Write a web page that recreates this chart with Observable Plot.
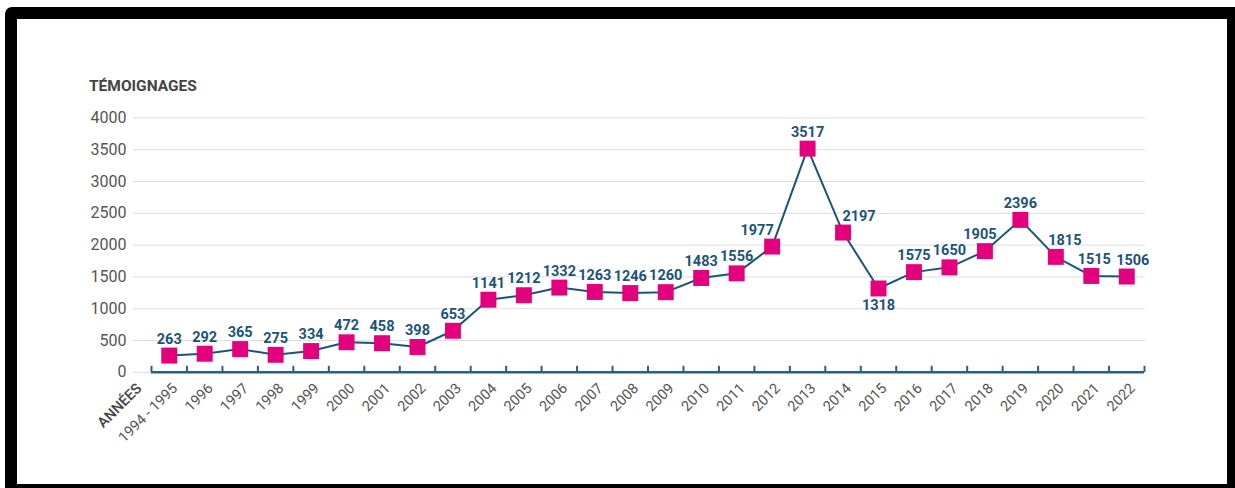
<!DOCTYPE html>
<html>
<head>
<meta charset="utf-8">
<script src="https://cdn.jsdelivr.net/npm/d3@7"></script>
<script src="https://cdn.jsdelivr.net/npm/@observablehq/plot@0.6"></script>
<style>
  html, body { margin: 0; padding: 0; background: #fff; overflow: hidden; width: 1235px; height: 488px; }
  #frame {
    position: absolute; left: 5px; top: 7px;
    width: 1210px; height: 465px;
    border: 12px solid #000; border-top-left-radius: 7px;
    pointer-events: none; z-index: 2;
  }
  #title {
    position: absolute; left: 89px; top: 79px;
    font-family: Roboto, sans-serif; font-size: 15.5px; font-weight: 700;
    line-height: 15px; color: #444;
  }
  #chart { position: absolute; left: 0; top: 100px; }
  #chart svg { font-family: Roboto, sans-serif; }
</style>
</head>
<body>
<div id="frame"></div>
<div id="title">TÉMOIGNAGES</div>
<div id="chart"></div>
<script>
// ---- data ----
const categories = ["1994 - 1995","1996","1997","1998","1999","2000","2001","2002","2003","2004","2005","2006","2007","2008","2009","2010","2011","2012","2013","2014","2015","2016","2017","2018","2019","2020","2021","2022"];
const values = [263,292,365,275,334,472,458,398,653,1141,1212,1332,1263,1246,1260,1483,1556,1977,3517,2197,1318,1575,1650,1905,2396,1815,1515,1506];
const yTicks = [0,500,1000,1500,2000,2500,3000,3500,4000];
const xAxisTitle = "ANNÉES";

// ---- presentation ----
const labelDx = {"2012": -15, "2014": 16, "2018": -5, "2020": 9, "2021": 3, "2022": 6};
const labelsBelow = new Set(["2015"]);
const pink = "#e3007d", navy = "#1d5476", axisCol = "#2a5f82";

const xRange = [151, 1144];
const bandPx = (xRange[1] - xRange[0]) / categories.length;

const data = categories.map((c, i) => ({cat: c, i, pos: i + 0.5, value: values[i]}));
const bounds = d3.range(categories.length + 1);

const height = 380, marginTop = 17.4, marginBottom = 108.2;
const yMax = 4000;
const tickLen = 6 * yMax / (height - marginTop - marginBottom);

const above = data.filter(d => !labelsBelow.has(d.cat));
const below = data.filter(d => labelsBelow.has(d.cat));
const labelX = d => d.pos + (labelDx[d.cat] || 0) / bandPx;

const chart = Plot.plot({
  width: 1235, height,
  marginLeft: 133, marginRight: 90, marginTop, marginBottom,
  x: {domain: [0, categories.length], range: xRange, axis: null},
  y: {domain: [0, yMax], axis: null},
  marks: [
    Plot.gridY(yTicks, {stroke: "#dedede", strokeOpacity: 1, strokeWidth: 1}),
    Plot.axisY(yTicks, {tickSize: 0, tickPadding: 7, fontSize: 16, fill: "#555", label: null, tickFormat: d => String(d)}),
    Plot.ruleY([0], {x1: 0, x2: categories.length, stroke: axisCol, strokeWidth: 2.6}),
    Plot.ruleX(bounds, {x: d => d, y1: 0, y2: tickLen, stroke: axisCol, strokeWidth: 2}),
    Plot.text(data, {x: "pos", y: () => 0, text: "cat", rotate: -45, textAnchor: "end", lineAnchor: "bottom",
      dx: 9, dy: 17, fontSize: 14.5, fill: "#555"}),
    Plot.text([xAxisTitle], {x: () => 0, y: () => 0, text: d => d, rotate: -45, textAnchor: "end", lineAnchor: "bottom",
      dx: -9, dy: 17, fontSize: 14.5, fontWeight: 500, fill: "#444"}),
    Plot.line(data, {x: "pos", y: "value", stroke: navy, strokeWidth: 2}),
    Plot.dot(data, {x: "pos", y: "value", symbol: "square", r: 9, fill: pink, stroke: "none"}),
    Plot.text(above, {x: labelX, y: "value", text: d => String(d.value), lineAnchor: "bottom", dy: -12,
      fontSize: 14.5, fontWeight: 700, fill: navy}),
    Plot.text(below, {x: labelX, y: "value", text: d => String(d.value), lineAnchor: "bottom", dy: 22,
      fontSize: 14.5, fontWeight: 700, fill: navy})
  ]
});
document.getElementById("chart").appendChild(chart);
</script>
</body>
</html>
